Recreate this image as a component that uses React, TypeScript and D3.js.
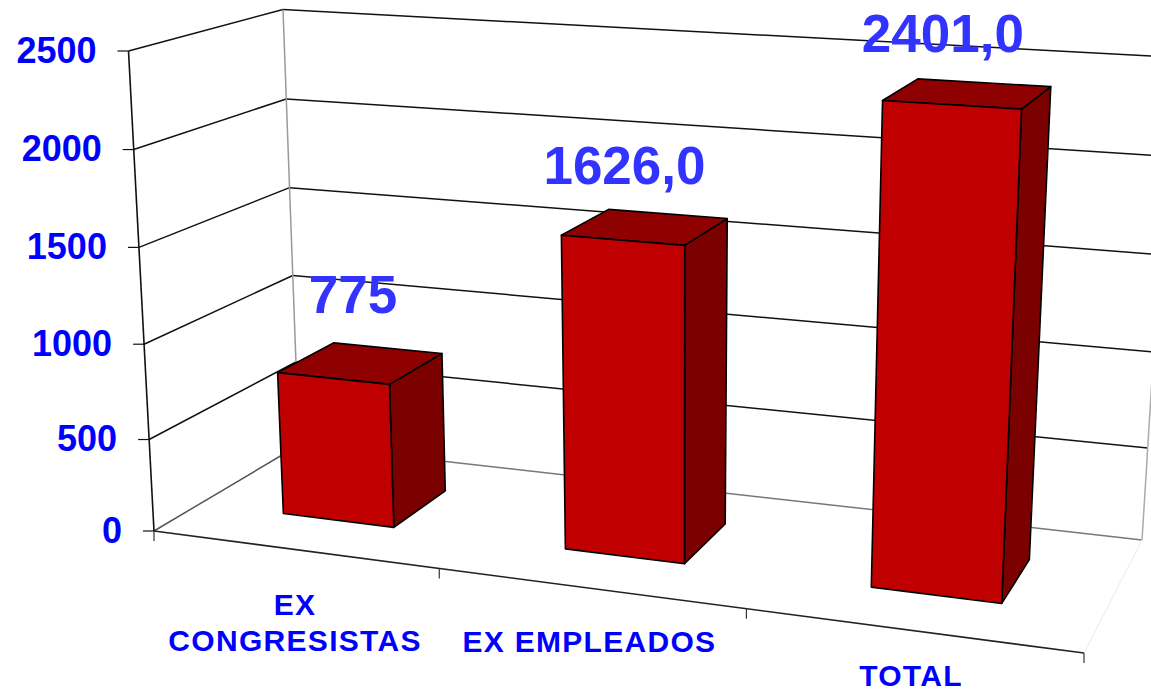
import React from 'react';
import * as d3 from 'd3';

const categories = ['EX CONGRESISTAS', 'EX EMPLEADOS', 'TOTAL'];
const categoryLines = [['EX', 'CONGRESISTAS'], ['EX EMPLEADOS'], ['TOTAL']];
const values = [775, 1626, 2401];
const valueLabels = ['775', '1626,0', '2401,0'];
const yTicks = [0, 500, 1000, 1500, 2000, 2500];

type Pt = [number, number];

const W = 1151;
const H = 691;

// corners of the chart box on screen, front-left / front-right / back-left / back-right
const floorCorners: Pt[] = [[154, 531], [1084, 653], [299, 445], [1142, 540]];
const topCorners: Pt[] = [[128.5, 51], [1111, 113], [283, 9.5], [1172, 57]];

// label placement around the projected marks
const catBaselines = [651, 652, 686];
const catLineGap = 36;
const valueOffsets: Pt[] = [[-8, -50], [-21, -43], [-25, -41]];

const BLUE = '#0000ff';
const LABEL_BLUE = '#3333ff';
const FONT = '"Liberation Sans", Arial, sans-serif';

// unit square -> quad, keeps the perspective of the box
const makeQuad = ([a, b, c, d]: Pt[]) => {
  const bd = [b[0] - d[0], b[1] - d[1]];
  const cd = [c[0] - d[0], c[1] - d[1]];
  const ad = [a[0] - d[0], a[1] - d[1]];
  const det = bd[0] * cd[1] - bd[1] * cd[0];
  const al = (ad[0] * cd[1] - ad[1] * cd[0]) / det;
  const be = (bd[0] * ad[1] - bd[1] * ad[0]) / det;
  return (u: number, w: number): Pt => {
    const den = 1 + u * (al - 1) + w * (be - 1);
    return [
      (a[0] + u * (al * b[0] - a[0]) + w * (be * c[0] - a[0])) / den,
      (a[1] + u * (al * b[1] - a[1]) + w * (be * c[1] - a[1])) / den,
    ];
  };
};

const floor = makeQuad(floorCorners);
const ceil = makeQuad(topCorners);

const xBand = d3.scaleBand<string>().domain(categories).range([0, 1]).paddingInner(0.6).paddingOuter(0.3);
const xStep = d3.scaleLinear().domain([0, categories.length]).range([0, 1]);
const xWarp = d3.scalePow().exponent(0.98).domain([0, 1]).range([0, 1]);
const yScale = d3.scalePow().exponent(1.03).domain([0, 2500]).range([0, 1]);
const depth = d3.scaleLinear().domain([0, 1]).range([0.3, 0.7]);

const project = (u: number, value: number, w: number): Pt => {
  const p = floor(xWarp(u), w);
  const q = ceil(xWarp(u), w);
  return d3.interpolateArray(p, q)(yScale(value)) as unknown as Pt;
};

const path = d3.line<Pt>();
const poly = (pts: Pt[]) => path(pts) + 'Z';

const App = () => {
  const bars = values.map((v, i) => {
    const u0 = xBand(categories[i]) as number;
    const u1 = u0 + xBand.bandwidth();
    const w0 = depth(0);
    const w1 = depth(1);
    const fbl = project(u0, 0, w0);
    const fbr = project(u1, 0, w0);
    const ftl = project(u0, v, w0);
    const ftr = project(u1, v, w0);
    const bbr = project(u1, 0, w1);
    const btl = project(u0, v, w1);
    const btr = project(u1, v, w1);
    const c = project((u0 + u1) / 2, v, 0.5);
    return { front: [ftl, ftr, fbr, fbl], top: [ftl, ftr, btr, btl], side: [ftr, btr, bbr, fbr], c };
  });

  return (
    <svg width={W} height={H} style={{ position: 'absolute', left: 0, top: 0, background: '#fff' }}>
      {/* walls */}
      {yTicks.map(t => (
        <g key={t} fill="none">
          <path d={path([project(0, t, 0), project(0, t, 1)]) as string} stroke={t === 0 ? '#555' : '#111'} strokeWidth={1.5} />
          <path d={path([project(0, t, 1), project(1, t, 1)]) as string} stroke={t === 0 ? '#777' : '#111'} strokeWidth={1.5} />
        </g>
      ))}
      <path d={path([project(0, 0, 1), project(0, 2500, 1)]) as string} stroke="#999" strokeWidth={1.5} fill="none" />
      <path d={path([project(1, 0, 1), project(1, 2500, 1)]) as string} stroke="#aaa" strokeWidth={1.5} fill="none" />
      <path d={path([project(1, 0, 0), project(1, 0, 1)]) as string} stroke="#eee" strokeWidth={1.2} fill="none" />

      {/* axes */}
      <path d={path([project(0, 0, 0), project(0, 2500, 0)]) as string} stroke="#111" strokeWidth={1.6} fill="none" />
      <path d={path([project(0, 0, 0), project(1, 0, 0)]) as string} stroke="#222" strokeWidth={1.6} fill="none" />
      {yTicks.map(t => {
        const [x, y] = project(0, t, 0);
        return (
          <g key={t}>
            <line x1={x - 11} x2={x} y1={y} y2={y} stroke="#111" strokeWidth={1.2} />
            <text x={x - 32} y={y - 1} dy="0.35em" textAnchor="end" fill={BLUE} fontFamily={FONT} fontWeight="bold" fontSize={36}>
              {t}
            </text>
          </g>
        );
      })}
      {d3.range(categories.length + 1).map(i => {
        const [x, y] = project(xStep(i), 0, 0);
        return <line key={i} x1={x} x2={x} y1={y} y2={y + 10} stroke="#333" strokeWidth={1.2} />;
      })}

      {/* bars */}
      {bars.map((b, i) => (
        <g key={i} stroke="#000" strokeWidth={1.6} strokeLinejoin="round">
          <path d={poly(b.side)} fill="#7b0000" />
          <path d={poly(b.top)} fill="#8f0000" />
          <path d={poly(b.front)} fill="#c00000" />
        </g>
      ))}

      {/* value labels */}
      {bars.map((b, i) => (
        <text key={i} x={b.c[0] + valueOffsets[i][0]} y={b.c[1] + valueOffsets[i][1]} textAnchor="middle" fill={LABEL_BLUE} fontFamily={FONT} fontWeight="bold" fontSize={53}>
          {valueLabels[i]}
        </text>
      ))}

      {/* category labels */}
      {categoryLines.map((lines, i) => {
        const [x] = project((xStep(i) + xStep(i + 1)) / 2, 0, 0);
        return (
          <text key={i} textAnchor="middle" fill={BLUE} fontFamily={FONT} fontWeight="bold" fontSize={30} letterSpacing={1.3}>
            {lines.map((l, j) => (
              <tspan key={l} x={x} y={catBaselines[i] - (lines.length - 1 - j) * catLineGap}>{l}</tspan>
            ))}
          </text>
        );
      })}
    </svg>
  );
};

export default App;
